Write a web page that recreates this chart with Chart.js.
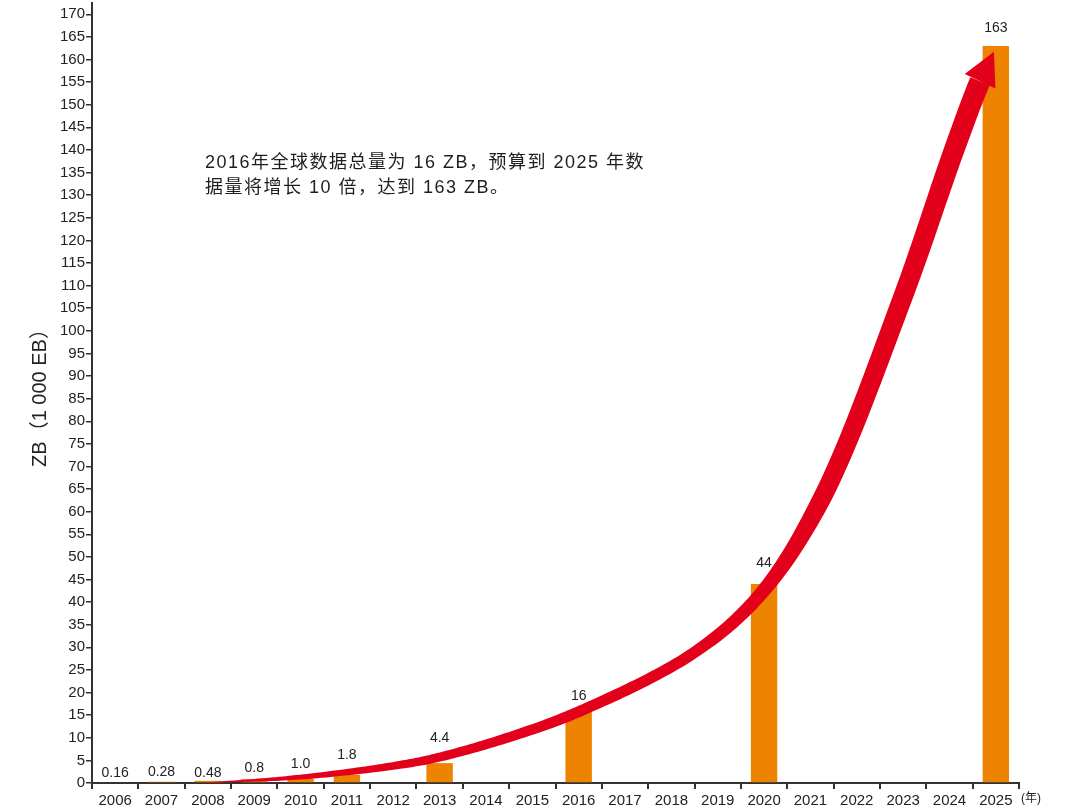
<!DOCTYPE html>
<html>
<head>
<meta charset="utf-8">
<script src="https://cdn.jsdelivr.net/npm/chart.js@4.4.1/dist/chart.umd.min.js"></script>
<style>
  html, body { margin: 0; padding: 0; background: #fff; }
  #chart { display: block; }
</style>
</head>
<body>
<canvas id="chart" width="1072" height="812"></canvas>
<script>
const FONT = '"Liberation Sans", "Noto Sans CJK SC", sans-serif';

// years on the x axis
const years = ['2006', '2007', '2008', '2009', '2010', '2011', '2012', '2013', '2014', '2015',
  '2016', '2017', '2018', '2019', '2020', '2021', '2022', '2023', '2024', '2025'];
// data volume, ZB (null = no bar)
const dataVolume = [0.16, 0.28, 0.48, 0.8, 1.0, 1.8, null, 4.4, null, null,
  16, null, null, null, 44, null, null, null, null, 163];
const barLabels = ['0.16', '0.28', '0.48', '0.8', '1.0', '1.8', '', '4.4', '', '',
  '16', '', '', '', '44', '', '', '', '', '163'];
const yTicks = [0, 5, 10, 15, 20, 25, 30, 35, 40, 45, 50, 55, 60, 65, 70, 75, 80, 85,
  90, 95, 100, 105, 110, 115, 120, 125, 130, 135, 140, 145, 150, 155, 160, 165, 170];

// red growth arrow, centre line (category index, ZB)
const trendIndex = [1.83, 3.99, 6.14, 7.01, 8.52, 10.03, 12.47, 13.91, 15.23, 16.97, 18.1, 18.66];
const trendValue = [0, 1.3, 4.0, 5.75, 10.2, 15.9, 28.7, 41.6, 62.6, 106.8, 140, 155.2];
const trendTip = [18.96, 161.7];

const noteLines = ['2016年全球数据总量为 16 ZB，预算到 2025 年数', '据量将增长 10 倍，达到 163 ZB。'];

// centripetal catmull-rom point between p1 and p2
function crPoint(p0, p1, p2, p3, u) {
  const d = (a, b) => Math.max(Math.sqrt(Math.hypot(b.x - a.x, b.y - a.y)), 1e-4);
  const t0 = 0, t1 = t0 + d(p0, p1), t2 = t1 + d(p1, p2), t3 = t2 + d(p2, p3);
  const t = t1 + (t2 - t1) * u;
  const mix = (a, b, ta, tb) => ({
    x: (tb - t) / (tb - ta) * a.x + (t - ta) / (tb - ta) * b.x,
    y: (tb - t) / (tb - ta) * a.y + (t - ta) / (tb - ta) * b.y
  });
  const a1 = mix(p0, p1, t0, t1), a2 = mix(p1, p2, t1, t2), a3 = mix(p2, p3, t2, t3);
  const b1 = mix(a1, a2, t0, t2), b2 = mix(a2, a3, t1, t3);
  return mix(b1, b2, t1, t2);
}

// draws the tapered arrow through the trend points
const trendArrow = {
  id: 'trendArrow',
  afterDatasetsDraw(chart, args, opts) {
    const { ctx, scales: { x, y } } = chart;
    const pts = trendIndex.map((v, k) => ({ x: x.getPixelForValue(v), y: y.getPixelForValue(trendValue[k]) }));
    const tip = { x: x.getPixelForValue(trendTip[0]), y: y.getPixelForValue(trendTip[1]) };
    const first = { x: 2 * pts[0].x - pts[1].x, y: 2 * pts[0].y - pts[1].y };
    const all = [first].concat(pts, [tip]);
    const widths = opts.widths;

    let samples = [];
    for (let k = 0; k < pts.length - 1; k++) {
      const steps = 24;
      for (let s = 0; s < steps; s++) {
        const u = s / steps;
        const p = crPoint(all[k], all[k + 1], all[k + 2], all[k + 3], u);
        samples.push({ x: p.x, y: p.y, w: widths[k] + (widths[k + 1] - widths[k]) * u });
      }
    }
    const last = pts[pts.length - 1];
    samples.push({ x: last.x, y: last.y, w: widths[widths.length - 1] });

    const left = [], right = [];
    for (let i = 0; i < samples.length; i++) {
      const a = samples[Math.max(i - 1, 0)], b = samples[Math.min(i + 1, samples.length - 1)];
      const dx = b.x - a.x, dy = b.y - a.y;
      const len = Math.hypot(dx, dy) || 1;
      const nx = -dy / len, ny = dx / len;
      const h = samples[i].w / 2;
      left.push([samples[i].x + nx * h, samples[i].y + ny * h]);
      right.push([samples[i].x - nx * h, samples[i].y - ny * h]);
    }

    ctx.save();
    ctx.fillStyle = opts.color;
    ctx.beginPath();
    ctx.moveTo(left[0][0], left[0][1]);
    left.forEach(p => ctx.lineTo(p[0], p[1]));
    for (let i = right.length - 1; i >= 0; i--) ctx.lineTo(right[i][0], right[i][1]);
    ctx.closePath();
    ctx.fill();

    // head
    const dx = tip.x - last.x, dy = tip.y - last.y;
    const len = Math.hypot(dx, dy);
    const nx = -dy / len, ny = dx / len;
    const hw = opts.headWidth / 2;
    ctx.beginPath();
    ctx.moveTo(tip.x, tip.y);
    ctx.lineTo(last.x + nx * hw, last.y + ny * hw);
    ctx.lineTo(last.x - nx * hw, last.y - ny * hw);
    ctx.closePath();
    ctx.fill();
    ctx.restore();
  }
};

// value labels over the bars
const barValueLabels = {
  id: 'barValueLabels',
  afterDatasetsDraw(chart, args, opts) {
    const { ctx } = chart;
    const meta = chart.getDatasetMeta(0);
    ctx.save();
    ctx.font = '14px ' + FONT;
    ctx.fillStyle = '#222';
    ctx.textAlign = 'center';
    ctx.textBaseline = 'bottom';
    meta.data.forEach((bar, i) => {
      if (!barLabels[i]) return;
      ctx.fillText(barLabels[i], bar.x, bar.y - opts.lift[i]);
    });
    ctx.restore();
  }
};

// annotation text and the unit after the x axis
const noteText = {
  id: 'noteText',
  afterDraw(chart) {
    const { ctx, chartArea } = chart;
    ctx.save();
    ctx.fillStyle = '#1e1e1e';
    ctx.font = '18px ' + FONT;
    ctx.letterSpacing = '1.5px';
    ctx.textAlign = 'left';
    ctx.textBaseline = 'middle';
    noteLines.forEach((line, i) => ctx.fillText(line, 205, 163 + i * 25));
    ctx.letterSpacing = '0px';
    ctx.font = '12px ' + FONT;
    ctx.fillText('(年)', chartArea.right + 2, chartArea.bottom + 16);
    ctx.restore();
  }
};

new Chart(document.getElementById('chart'), {
  type: 'bar',
  data: {
    labels: years,
    datasets: [{
      data: dataVolume,
      backgroundColor: '#ee8300',
      categoryPercentage: 1,
      barPercentage: 0.57
    }]
  },
  plugins: [trendArrow, barValueLabels, noteText],
  options: {
    responsive: false,
    animation: false,
    layout: { padding: { top: 3, right: 53, left: 0, bottom: 0 } },
    plugins: {
      legend: { display: false },
      tooltip: { enabled: false },
      trendArrow: {
        color: '#e3001b',
        widths: [0, 5, 8, 9, 10, 11, 11.5, 13.5, 18.5, 19.5, 20.5, 21],
        headWidth: 34
      },
      barValueLabels: { lift: [2, 3, 1, 4, 7, 13, 0, 18, 0, 0, 8, 0, 0, 0, 14, 0, 0, 0, 0, 11] }
    },
    scales: {
      x: {
        offset: true,
        grid: { offset: true, drawOnChartArea: false, tickLength: 6, color: '#333', lineWidth: 2 },
        border: { color: '#333', width: 2 },
        ticks: { color: '#222', font: { family: FONT, size: 15 }, padding: 3, maxRotation: 0, autoSkip: false },
        afterFit(scale) { scale.height = 29; scale.paddingLeft = 0; scale.paddingRight = 0; }
      },
      y: {
        min: 0,
        max: 172.5,
        afterBuildTicks(scale) { scale.ticks = yTicks.map(v => ({ value: v })); },
        ticks: { color: '#222', font: { family: FONT, size: 15 }, padding: 1 },
        grid: { drawOnChartArea: false, tickLength: 6, color: '#333', lineWidth: 1.5 },
        border: { color: '#333', width: 2 },
        title: { display: true, text: 'ZB（1 000 EB）', color: '#222', font: { family: FONT, size: 20 }, padding: { top: 28, bottom: 0 } },
        afterFit(scale) { scale.width = 92; scale.paddingTop = 0; scale.paddingBottom = 0; }
      }
    }
  }
});
</script>
</body>
</html>
